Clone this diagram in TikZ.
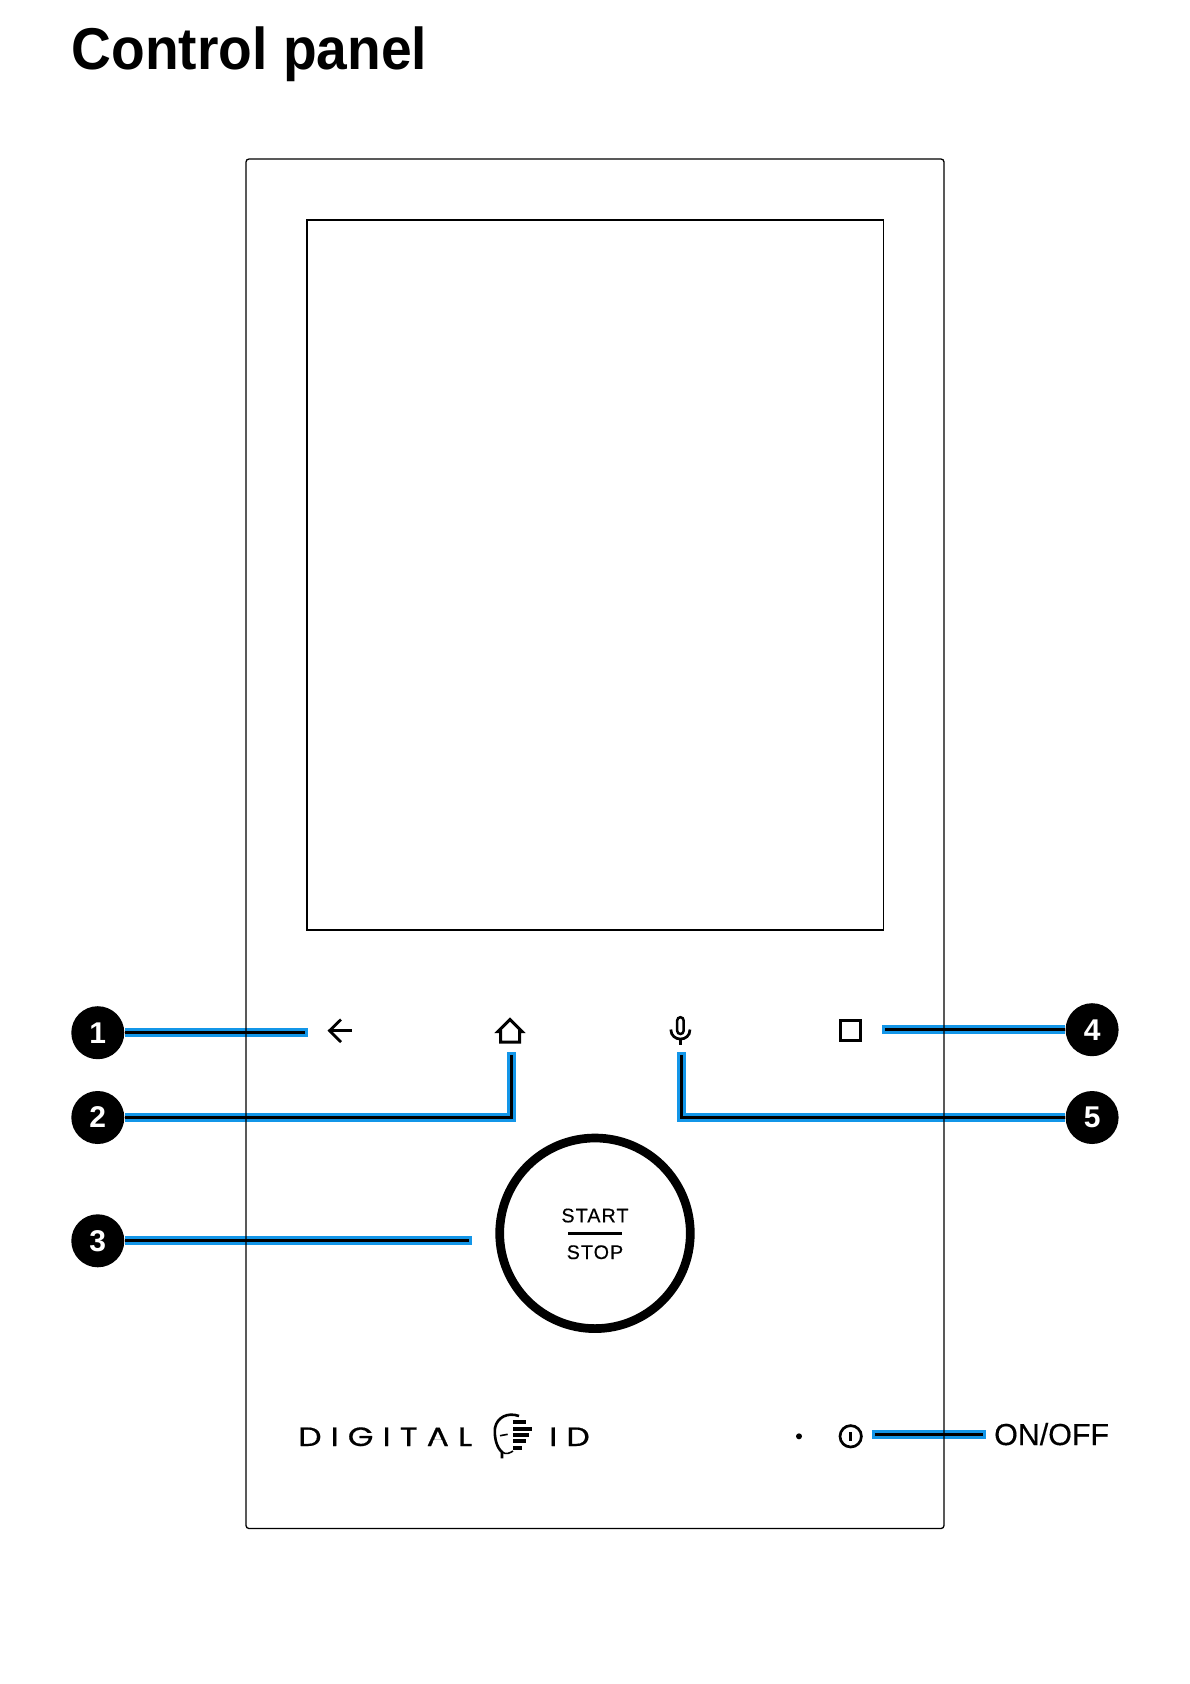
\documentclass[tikz,border=0pt]{standalone}
\usepackage{fontspec}
\setmainfont{Liberation Sans}
\newfontfamily\titlefont[FakeStretch=0.935]{Liberation Sans}
\newfontfamily\btnfont[LetterSpace=5.5,FakeBold=0.3]{Liberation Sans}
\newfontfamily\sidefont[FakeBold=0.4]{Liberation Sans}
\newfontfamily\logofont[LetterSpace=34,FakeStretch=1.25,FakeBold=0.6]{Poppins}
\definecolor{leadblue}{HTML}{1396E8}
\tikzset{
	numnode/.style={circle,fill=black,text=white,minimum size=53pt,inner sep=0pt,font=\bfseries\fontsize{30}{30}\selectfont},
	leadcase/.style={draw=leadblue,line width=9pt,shorten >=-3pt},
	leadcore/.style={draw=black,line width=3pt},
	iconline/.style={draw=black,line width=2.8pt},
	btntext/.style={anchor=base,inner sep=0pt,font=\btnfont\fontsize{19.7}{20}\selectfont},
	logotext/.style={anchor=base west,inner sep=0pt,font=\logofont\fontsize{26.5}{27}\selectfont}
}
\begin{document}
\begin{tikzpicture}[x=1pt,y=-1pt]
	\useasboundingbox (0,0) rectangle (1190,1684);
	\node[anchor=base west,inner sep=0pt,font=\titlefont\bfseries\fontsize{59}{59}\selectfont] (title) at (71.5,69.5) {Control panel};
	\foreach \i/\x/\y in {1/97.8/1032.7,2/97.8/1117.5,3/97.8/1240.8,4/1092.1/1029.7,5/1092.1/1117.5}
		\node[numnode] (n\i) at (\x,\y) {\i};
	\coordinate (c1) at (305,1032.7);
	\coordinate (c2) at (511.4,1054.7);
	\coordinate (c3) at (469,1240.8);
	\coordinate (c4) at (885,1029.7);
	\coordinate (c5) at (681.8,1054.7);
	\coordinate (c6) at (875,1434.4);
	\node[anchor=base west,inner xsep=10.7pt,inner ysep=0pt,font=\sidefont\fontsize{30.4}{30}\selectfont] (onoff) at (983.3,1445) {ON/OFF};
	\foreach \st in {leadcase,leadcore}{
		\draw[\st] (n1) -- (c1);
		\draw[\st] (n2) -| (c2);
		\draw[\st] (n3) -- (c3);
		\draw[\st] (n4) -- (c4);
		\draw[\st] (n5) -| (c5);
	}
	\draw[leadcase,shorten <=-3pt] (c6) -- (c6 -| onoff.west);
	\draw[leadcore] (c6) -- (c6 -| onoff.west);
	% panel and screen
	\draw[line width=1.3pt,rounded corners=3pt] (246,159) rectangle (944,1528.5);
	\draw[line width=1.2pt] (307,220) rectangle (883.3,930);
	% icons
	\draw[iconline] (352,1030.7) -- (329.5,1030.7);
	\draw[iconline] (341,1019.5) -- (329.5,1030.7) -- (341,1042);
	\draw[line width=3pt,line join=miter] (500.5,1042) -- (500.5,1031.5) -- (498,1031.5) -- (510,1019.5) -- (522,1031.5) -- (519.5,1031.5) -- (519.5,1042) -- cycle;
	\draw[line width=2.5pt,rounded corners=3.2pt] (677.2,1017.2) rectangle (683.6,1034);
	\draw[line width=2.7pt] (670.8,1029.5) .. controls (671,1042.2) and (690,1042.2) .. (690,1029.5);
	\draw[line width=2.7pt] (680.4,1039) -- (680.4,1045.3);
	\draw[iconline] (840.4,1020.4) rectangle (860.6,1040.6);
	% start stop button
	\node[circle,draw=black,line width=8.7pt,minimum size=190.6pt,inner sep=0pt] (btn) at (595,1233.3) {};
	\node[btntext] (start) at (595,1222.3) {START};
	\node[btntext] (stop) at (595,1259) {STOP};
	\draw[line width=3.3pt] (568,1233.7) -- (622,1233.7);
	% logo
	\node[logotext] (logoa) at (298,1446) {DIGITAL};
	\fill[white] (433.8,1439.8) -- (441.9,1439.8) -- (442.85,1442.1) -- (432.75,1442.1) -- cycle;
	\node[logotext] (logob) at (549,1446) {ID};
	\draw[line width=2.6pt] (519,1416) .. controls (508,1412) and (497,1417) .. (495,1428) .. controls (494,1438) and (497,1448) .. (502,1452) -- (502,1458.3);
	\draw[line width=1.6pt] (502,1452) .. controls (506,1455) and (510,1453) .. (513,1451);
	\draw[line width=1.6pt] (500,1435.7) -- (507.7,1434.3);
	\foreach \y/\len in {1421.8/13,1428.6/19,1435/16,1441.4/13,1447.7/9}
		\fill (513,\y-2) rectangle (513+\len,\y+2);
	% on off
	\fill (799,1436.3) circle (3pt);
	\draw[line width=2.7pt] (850.7,1436.3) circle (10.7pt);
	\draw[line width=2.5pt] (850.7,1432.3) -- (850.7,1440.7);
\end{tikzpicture}
\end{document}
